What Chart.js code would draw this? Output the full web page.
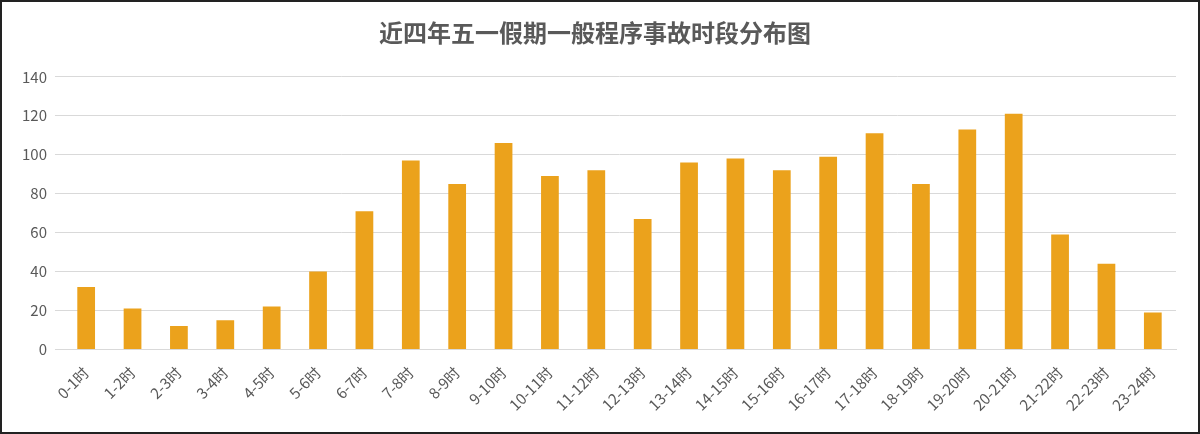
<!DOCTYPE html>
<html><head><meta charset="utf-8">
<script src="https://cdn.jsdelivr.net/npm/chart.js@4/dist/chart.umd.min.js"></script>
<style>
html,body{margin:0;padding:0;background:#fff;}
#wrap{width:1196px;height:430px;border:2px solid #222;position:relative;}
</style></head><body>
<div id="wrap"><canvas id="c"></canvas></div>
<script>
const categories = ['0-1时','1-2时','2-3时','3-4时','4-5时','5-6时','6-7时','7-8时','8-9时','9-10时','10-11时','11-12时','12-13时','13-14时','14-15时','15-16时','16-17时','17-18时','18-19时','19-20时','20-21时','21-22时','22-23时','23-24时'];
const accidents = [32,21,12,15,22,40,71,97,85,106,89,92,67,96,98,92,99,111,85,113,121,59,44,19];
const yTicks = [0,20,40,60,80,100,120,140];

new Chart(document.getElementById('c'), {
  type: 'bar',
  data: { labels: categories, datasets: [{ data: accidents, backgroundColor: '#EBA21C', categoryPercentage: 0.85, barPercentage: 0.45 }] },
  options: {
    responsive: true, maintainAspectRatio: false, animation: false,
    layout: { padding: { left: 12, right: 22, top: 10, bottom: 12 } },
    plugins: {
      legend: { display: false },
      title: { display: true, text: '近四年五一假期一般程序事故时段分布图', color: '#595959',
        font: { size: 24, family: 'Noto Sans CJK SC', weight: 'bold' }, padding: { top: 6, bottom: 30 } }
    },
    scales: {
      y: { min: 0, max: 140, afterBuildTicks: a => { a.ticks = yTicks.map(v => ({ value: v })); },
        grid: { color: '#d9d9d9' }, border: { display: false },
        ticks: { color: '#595959', font: { size: 15, family: 'Noto Sans CJK SC' }, padding: 8 } },
      x: { grid: { display: false }, border: { color: '#d9d9d9' },
        ticks: { color: '#595959', font: { size: 15, family: 'Noto Sans CJK SC' }, maxRotation: 45, minRotation: 45, autoSkip: false, padding: 6 } }
    }
  }
});
</script></body></html>
